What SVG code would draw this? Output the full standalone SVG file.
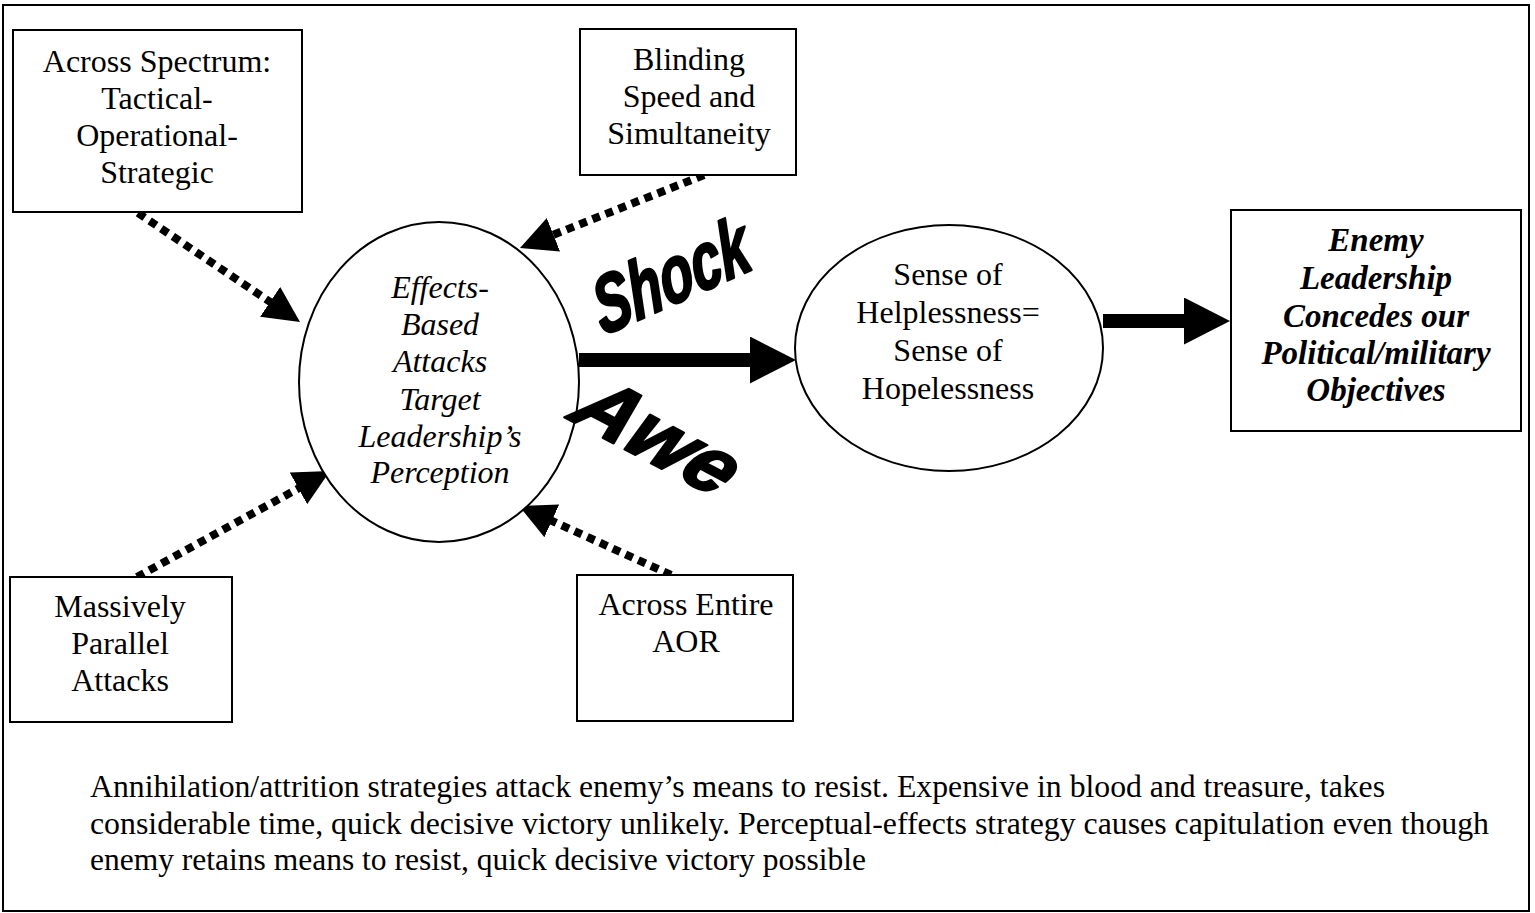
<svg xmlns="http://www.w3.org/2000/svg" width="1535" height="913" viewBox="0 0 1535 913">
<style>
.box{fill:#fff;stroke:#000;stroke-width:2}
.ell{fill:#fff;stroke:#000;stroke-width:2}
.t{font-family:"Liberation Serif","Times New Roman",serif;font-size:32px;fill:#000;text-anchor:middle}
.ti{font-style:italic}
.tb{font-style:italic;font-weight:bold;font-size:33px}
.p{font-family:"Liberation Serif","Times New Roman",serif;font-size:31.6px;fill:#000}
.dot{stroke:#000;stroke-width:8;stroke-dasharray:8 6;fill:none}
.thick{stroke:#000;stroke-width:14;fill:none}
.wa{font-family:"Liberation Sans",Arial,sans-serif;font-weight:bold;font-style:italic;font-size:80px;fill:#000;stroke:#000;stroke-width:2.5;stroke-linejoin:round}
</style>
<defs>
<marker id="ah" markerUnits="userSpaceOnUse" markerWidth="40" markerHeight="40" refX="2" refY="18" orient="auto">
<path d="M0,0 L36,18 L0,36 z" fill="#000"/>
</marker>
<marker id="big" markerUnits="userSpaceOnUse" markerWidth="50" markerHeight="50" refX="2" refY="23.5" orient="auto">
<path d="M0,0 L46,23.5 L0,47 z" fill="#000"/>
</marker>
</defs>
<rect x="0" y="0" width="1535" height="913" fill="#fff"/>
<rect x="3" y="5" width="1526" height="906" fill="none" stroke="#000" stroke-width="2"/>

<g id="connectors">
<line class="dot" x1="138" y1="213" x2="271.8" y2="303"  marker-end="url(#ah)"/>
<line class="dot" x1="704" y1="175" x2="551.6" y2="235.5" marker-end="url(#ah)"/>
<line class="dot" x1="137" y1="577" x2="300.2" y2="487.4" marker-end="url(#ah)"/>
<line class="dot" x1="671" y1="575" x2="550" y2="520" marker-end="url(#ah)"/>
<line class="thick" x1="579" y1="360" x2="752" y2="360" marker-end="url(#big)"/>
<line class="thick" x1="1103" y1="321" x2="1186" y2="321" marker-end="url(#big)"/>
</g>

<g id="node-spectrum">
<rect class="box" x="13" y="30" width="289" height="182"/>
<text class="t" x="157" y="72">Across Spectrum:</text>
<text class="t" x="157" y="109">Tactical-</text>
<text class="t" x="157" y="146">Operational-</text>
<text class="t" x="157" y="183">Strategic</text>
</g>

<g id="node-blinding">
<rect class="box" x="580" y="29" width="216" height="146"/>
<text class="t" x="689" y="70">Blinding</text>
<text class="t" x="689" y="107">Speed and</text>
<text class="t" x="689" y="144">Simultaneity</text>
</g>

<g id="node-effects">
<ellipse class="ell" cx="439" cy="382" rx="140" ry="160"/>
<text class="t ti" x="440" y="298">Effects-</text>
<text class="t ti" x="440" y="335">Based</text>
<text class="t ti" x="440" y="372">Attacks</text>
<text class="t ti" x="440" y="410">Target</text>
<text class="t ti" x="440" y="447">Leadership’s</text>
<text class="t ti" x="440" y="483">Perception</text>
</g>

<g id="node-helpless">
<ellipse class="ell" cx="949" cy="348" rx="154" ry="123"/>
<text class="t" x="948" y="285">Sense of</text>
<text class="t" x="948" y="323">Helplessness=</text>
<text class="t" x="948" y="361">Sense of</text>
<text class="t" x="948" y="399">Hopelessness</text>
</g>

<g id="node-enemy">
<rect class="box" x="1231" y="210" width="290" height="221"/>
<text class="t tb" x="1376" y="251">Enemy</text>
<text class="t tb" x="1376" y="289">Leadership</text>
<text class="t tb" x="1376" y="327">Concedes our</text>
<text class="t tb" x="1376" y="364">Political/military</text>
<text class="t tb" x="1376" y="401">Objectives</text>
</g>

<g id="node-massive">
<rect class="box" x="10" y="577" width="222" height="145"/>
<text class="t" x="120" y="617">Massively</text>
<text class="t" x="120" y="654">Parallel</text>
<text class="t" x="120" y="691">Attacks</text>
</g>

<g id="node-aor">
<rect class="box" x="577" y="575" width="216" height="146"/>
<text class="t" x="686" y="615">Across Entire</text>
<text class="t" x="686" y="652">AOR</text>
</g>

<g id="wordart">
<text class="wa" transform="translate(603,336) rotate(-24) skewX(-8)" textLength="166" lengthAdjust="spacingAndGlyphs">Shock</text>
<text class="wa" transform="translate(566,418) rotate(28) skewX(-12)" textLength="170" lengthAdjust="spacingAndGlyphs">Awe</text>
</g>

<g id="caption">
<text class="p" x="90" y="797" textLength="1295" lengthAdjust="spacingAndGlyphs">Annihilation/attrition strategies attack enemy’s means to resist. Expensive in blood and treasure, takes</text>
<text class="p" x="90" y="834" textLength="1399" lengthAdjust="spacingAndGlyphs">considerable time, quick decisive victory unlikely. Perceptual-effects strategy causes capitulation even though</text>
<text class="p" x="90" y="870" textLength="776" lengthAdjust="spacingAndGlyphs">enemy retains means to resist, quick decisive victory possible</text>
</g>
</svg>
